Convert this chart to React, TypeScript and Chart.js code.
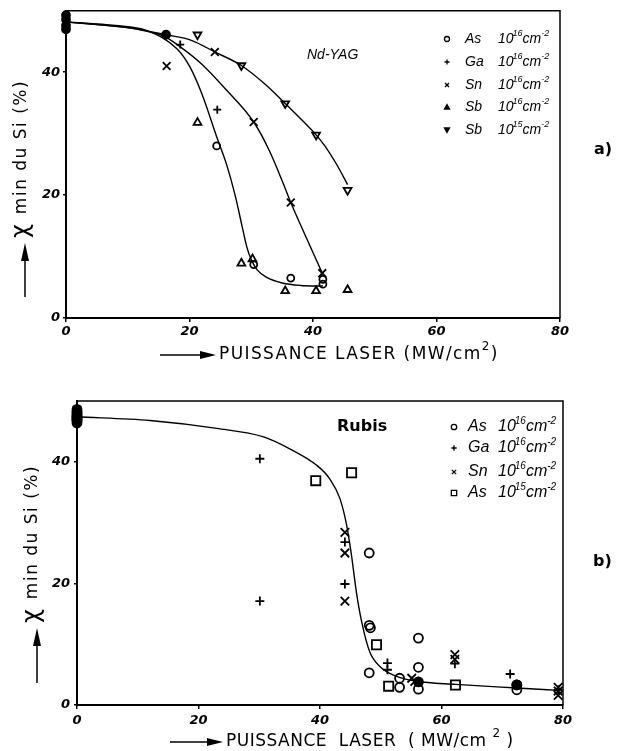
import { useEffect, useRef } from 'react';
import { Chart, registerables } from 'chart.js';
Chart.register(...registerables);

// ---------- shared ticks ----------
const xTicks = [0, 20, 40, 60, 80];
const yTicks = [0, 20, 40];

// ---------- chart a) Nd-YAG ----------
const asXA = [24.4, 30.4, 36.4, 41.6, 41.6];
const asYA = [28.0, 8.7, 6.5, 5.5, 6.3];
const gaXA = [18.5, 24.5];
const gaYA = [44.5, 33.9];
const snXA = [16.3, 24.1, 30.4, 36.4, 41.5];
const snYA = [41.0, 43.3, 31.9, 18.8, 7.3];
const sb16XA = [21.3, 28.4, 30.2, 35.5, 40.5, 45.6];
const sb16YA = [31.8, 8.9, 9.6, 4.4, 4.4, 4.6];
const sb15XA = [21.3, 28.4, 35.5, 40.5, 45.6];
const sb15YA = [46.1, 41.1, 34.9, 29.8, 20.8];
const mixedXA = [0, 0, 0, 0, 16.2];
const mixedYA = [49.3, 48.6, 47.6, 47.0, 46.1];
const fit1XA = [0, 8, 13, 18, 20, 22, 24.5, 26, 27.5, 28.5, 29.3, 30, 31, 32.5, 35, 38, 41.6];
const fit1YA = [48.2, 47.6, 46.8, 43.8, 41.0, 36.5, 29.2, 25.0, 19.5, 15.0, 11.5, 9.5, 7.8, 6.6, 5.7, 5.3, 5.2];
const fit2XA = [0, 11, 16, 18.4, 22, 25.8, 30.4, 32.9, 35.1, 36.4, 38.9, 41.5];
const fit2YA = [48.2, 47.1, 45.8, 44.2, 41.3, 37.3, 31.9, 27.3, 22.1, 18.8, 13.1, 7.3];
const fit3XA = [0, 11, 16.2, 20.3, 24.1, 28.4, 32.3, 35.5, 40.5, 42, 44, 45.6];
const fit3YA = [48.2, 47.1, 46.1, 45.2, 43.3, 41.1, 38.0, 34.9, 29.8, 27.9, 24.7, 21.7];
const legendNamesA = ['As', 'Ga', 'Sn', 'Sb', 'Sb'];
const legendExpA = ['16', '16', '16', '16', '15'];

// ---------- chart b) Rubis ----------
const asXB = [0, 48.1, 48.1, 48.3, 48.1, 53.1, 53.1, 56.2, 56.2, 56.2, 72.4, 72.4];
const asYB = [47.0, 25.0, 13.1, 12.7, 5.3, 4.4, 2.9, 11.0, 6.2, 2.6, 3.3, 2.5];
const gaXB = [0, 30.1, 30.1, 44.1, 44.1, 51.1, 51.1, 62.2, 71.3, 79.2];
const gaYB = [48.0, 40.5, 17.1, 26.8, 19.9, 6.9, 5.8, 6.8, 5.1, 2.5];
const snXB = [0, 44.1, 44.1, 44.1, 55.1, 55.6, 62.2, 62.2, 79.2, 79.2, 79.2];
const snYB = [48.5, 28.4, 25.0, 17.1, 4.4, 3.9, 8.3, 7.5, 1.6, 2.3, 2.9];
const as15XB = [0, 39.3, 45.2, 49.3, 51.3, 62.3];
const as15YB = [47.5, 36.9, 38.2, 9.9, 3.1, 3.3];
const mixedXB = [0, 0, 0, 56.2, 72.4];
const mixedYB = [48.6, 47.4, 46.4, 3.8, 3.3];
const fitXB = [0, 12, 23, 30.7, 35.1, 39.5, 41.6, 43.3, 44.4, 45.2, 46, 46.9, 48.2, 49.9, 52.6, 55.9, 62.3, 72.4, 79.2];
const fitYB = [47.4, 46.8, 45.5, 44.1, 42.1, 39.4, 37.2, 33.9, 29.5, 24.5, 18.5, 13.5, 8.7, 6.3, 4.7, 3.9, 3.4, 2.8, 2.4];
const legendNamesB = ['As', 'Ga', 'Sn', 'As'];
const legendExpB = ['16', '16', '16', '15'];

const FONT = '"DejaVu Sans", sans-serif';
const LFONT = '"Liberation Sans", Arial, sans-serif';

type Style = 'circle' | 'cross' | 'crossRot' | 'triangle' | 'triangleDown' | 'rect';

function toPts(xs: number[], ys: number[]) {
  return xs.map((x, i) => ({ x, y: ys[i] }));
}

function scatterSet(xs: number[], ys: number[], style: Style, r: number, filled = false) {
  return {
    data: toPts(xs, ys),
    pointStyle: style === 'triangleDown' ? 'triangle' : style,
    rotation: style === 'triangleDown' ? 180 : 0,
    pointRadius: r,
    borderColor: '#000',
    backgroundColor: filled ? '#000' : 'rgba(255,255,255,0)',
    borderWidth: 1.8,
    showLine: false,
    clip: false as any,
  };
}

function curveSet(xs: number[], ys: number[]) {
  return {
    data: toPts(xs, ys),
    showLine: true,
    pointRadius: 0,
    borderColor: '#000',
    borderWidth: 1.4,
    cubicInterpolationMode: 'monotone' as const,
    fill: false,
    clip: false as any,
  };
}

function drawMarker(ctx: CanvasRenderingContext2D, style: Style, x: number, y: number, r: number) {
  ctx.save();
  ctx.strokeStyle = '#000';
  ctx.fillStyle = '#000';
  ctx.lineWidth = 1.3;
  ctx.beginPath();
  if (style === 'circle') {
    ctx.arc(x, y, r, 0, Math.PI * 2);
    ctx.stroke();
  } else if (style === 'cross') {
    ctx.moveTo(x - r, y); ctx.lineTo(x + r, y);
    ctx.moveTo(x, y - r); ctx.lineTo(x, y + r);
    ctx.stroke();
  } else if (style === 'crossRot') {
    ctx.moveTo(x - r * 0.8, y - r * 0.8); ctx.lineTo(x + r * 0.8, y + r * 0.8);
    ctx.moveTo(x + r * 0.8, y - r * 0.8); ctx.lineTo(x - r * 0.8, y + r * 0.8);
    ctx.stroke();
  } else if (style === 'triangle') {
    ctx.moveTo(x, y - r); ctx.lineTo(x + r, y + r * 0.8); ctx.lineTo(x - r, y + r * 0.8);
    ctx.closePath(); ctx.fill(); ctx.stroke();
  } else if (style === 'triangleDown') {
    ctx.moveTo(x, y + r); ctx.lineTo(x + r, y - r * 0.8); ctx.lineTo(x - r, y - r * 0.8);
    ctx.closePath(); ctx.fill(); ctx.stroke();
  } else if (style === 'rect') {
    ctx.rect(x - r, y - r, 2 * r, 2 * r);
    ctx.stroke();
  }
  ctx.restore();
}

function drawLegend(ctx: CanvasRenderingContext2D, names: string[], exps: string[], styles: Style[],
  markerX: number, nameX: number, expX: number, ys: number[], mr: number, fs: number) {
  const sup = Math.round(fs * 0.62);
  names.forEach((name, i) => {
    const y = ys[i];
    drawMarker(ctx, styles[i], markerX, y, mr);
    ctx.save();
    ctx.fillStyle = '#000';
    ctx.textBaseline = 'middle';
    ctx.textAlign = 'left';
    ctx.font = `italic ${fs}px ${LFONT}`;
    ctx.fillText(name, nameX, y);
    ctx.fillText('10', expX, y);
    let cx = expX + ctx.measureText('10').width;
    ctx.font = `italic ${sup}px ${LFONT}`;
    ctx.fillText(exps[i], cx - 1, y - 6);
    cx += ctx.measureText(exps[i]).width - 1;
    ctx.font = `italic ${fs}px ${LFONT}`;
    ctx.fillText('cm', cx, y);
    cx += ctx.measureText('cm').width;
    ctx.font = `italic ${sup}px ${LFONT}`;
    ctx.fillText('-2', cx, y - 6);
    ctx.restore();
  });
}

function arrowH(ctx: CanvasRenderingContext2D, x0: number, x1: number, y: number) {
  ctx.save();
  ctx.strokeStyle = '#000'; ctx.fillStyle = '#000'; ctx.lineWidth = 1.5;
  ctx.beginPath(); ctx.moveTo(x0, y); ctx.lineTo(x1 - 12, y); ctx.stroke();
  ctx.beginPath(); ctx.moveTo(x1, y); ctx.lineTo(x1 - 16, y - 4); ctx.lineTo(x1 - 16, y + 4); ctx.closePath(); ctx.fill();
  ctx.restore();
}

function arrowV(ctx: CanvasRenderingContext2D, x: number, yTail: number, yTip: number) {
  ctx.save();
  ctx.strokeStyle = '#000'; ctx.fillStyle = '#000'; ctx.lineWidth = 1.5;
  ctx.beginPath(); ctx.moveTo(x, yTail); ctx.lineTo(x, yTip + 12); ctx.stroke();
  ctx.beginPath(); ctx.moveTo(x, yTip); ctx.lineTo(x - 4, yTip + 18); ctx.lineTo(x + 4, yTip + 18); ctx.closePath(); ctx.fill();
  ctx.restore();
}

function xTitle(ctx: CanvasRenderingContext2D, x: number, y: number, pre: string, post: string, spacing: string) {
  ctx.save();
  ctx.fillStyle = '#000';
  ctx.textBaseline = 'middle';
  ctx.textAlign = 'left';
  (ctx as any).letterSpacing = spacing;
  ctx.font = `17px ${FONT}`;
  ctx.fillText(pre, x, y);
  let cx = x + ctx.measureText(pre).width;
  ctx.font = `12px ${FONT}`;
  ctx.fillText('2', cx, y - 8);
  cx += ctx.measureText('2').width;
  ctx.font = `17px ${FONT}`;
  ctx.fillText(post, cx, y);
  ctx.restore();
}

function yTitle(ctx: CanvasRenderingContext2D, x: number, yBottom: number) {
  ctx.save();
  ctx.translate(x, yBottom);
  ctx.rotate(-Math.PI / 2);
  ctx.fillStyle = '#000';
  ctx.textBaseline = 'middle';
  ctx.textAlign = 'left';
  ctx.font = `24px ${FONT}`;
  ctx.fillText('χ', 0, 0);
  const w = ctx.measureText('χ').width;
  (ctx as any).letterSpacing = '1.5px';
  ctx.font = `17px ${FONT}`;
  ctx.fillText('min du Si (%)', w + 10, 0);
  ctx.restore();
}

function text(ctx: CanvasRenderingContext2D, s: string, x: number, y: number, font: string) {
  ctx.save();
  ctx.fillStyle = '#000';
  ctx.textBaseline = 'middle';
  ctx.textAlign = 'left';
  ctx.font = font;
  ctx.fillText(s, x, y);
  ctx.restore();
}

function frame(chart: any) {
  const { ctx, chartArea: a } = chart;
  ctx.save();
  ctx.strokeStyle = '#000';
  ctx.lineWidth = 1.5;
  ctx.beginPath();
  ctx.moveTo(a.left, a.top); ctx.lineTo(a.right, a.top); ctx.lineTo(a.right, a.bottom);
  ctx.stroke();
  ctx.restore();
}

function makeScales(yWidth: number, xHeight: number, xPad: number, yPad: number) {
  const tickFont = { family: FONT, size: 13, style: 'italic' as const, weight: 'bold' as const };
  return {
    x: {
      type: 'linear' as const,
      min: 0, max: 80,
      afterBuildTicks: (s: any) => { s.ticks = xTicks.map((v) => ({ value: v })); },
      afterFit: (s: any) => { s.height = xHeight; },
      ticks: { color: '#000', font: tickFont, padding: xPad, maxRotation: 0 },
      grid: { drawOnChartArea: false, drawTicks: true, tickLength: 4, color: '#000', lineWidth: 1.5 },
      border: { display: true, color: '#000', width: 2 },
    },
    y: {
      type: 'linear' as const,
      min: 0, max: 50,
      afterBuildTicks: (s: any) => { s.ticks = yTicks.map((v) => ({ value: v })); },
      afterFit: (s: any) => { s.width = yWidth; },
      ticks: { color: '#000', font: tickFont, padding: yPad },
      grid: { drawOnChartArea: false, drawTicks: true, tickLength: 3, color: '#000', lineWidth: 1.5 },
      border: { display: true, color: '#000', width: 2 },
    },
  };
}

const commonOpts = {
  animation: false as const,
  responsive: false,
  maintainAspectRatio: false,
  plugins: { legend: { display: false }, tooltip: { enabled: false } },
};

export default function App() {
  const refA = useRef<HTMLCanvasElement>(null);
  const refB = useRef<HTMLCanvasElement>(null);

  useEffect(() => {
    const chartA = new Chart(refA.current!, {
      type: 'scatter',
      data: {
        datasets: [
          curveSet(fit1XA, fit1YA),
          curveSet(fit2XA, fit2YA),
          curveSet(fit3XA, fit3YA),
          scatterSet(asXA, asYA, 'circle', 3.5),
          scatterSet(gaXA, gaYA, 'cross', 4),
          scatterSet(snXA, snYA, 'crossRot', 5.5),
          scatterSet(sb16XA, sb16YA, 'triangle', 4.5),
          scatterSet(sb15XA, sb15YA, 'triangleDown', 4.5),
          scatterSet(mixedXA, mixedYA, 'circle', 4, true),
        ] as any,
      },
      options: {
        ...commonOpts,
        layout: { padding: { left: 0, right: 64, top: 10, bottom: 0 } },
        scales: makeScales(66, 57, 2, 3) as any,
      },
      plugins: [{
        id: 'extrasA',
        afterDraw(chart: any) {
          const ctx = chart.ctx as CanvasRenderingContext2D;
          frame(chart);
          drawLegend(ctx, legendNamesA, legendExpA, ['circle', 'cross', 'crossRot', 'triangle', 'triangleDown'],
            447, 465, 498, [39, 62, 85, 107, 130], 2.5, 14);
          text(ctx, 'Nd-YAG', 307, 55, `italic 14px ${LFONT}`);
          text(ctx, 'a)', 594, 150, `bold 16px ${FONT}`);
          arrowH(ctx, 160, 216, 355);
          xTitle(ctx, 219, 355, 'PUISSANCE LASER (MW/cm', ')', '1.4px');
          yTitle(ctx, 22, 238);
          arrowV(ctx, 25, 297, 243);
        },
      }],
    });

    const chartB = new Chart(refB.current!, {
      type: 'scatter',
      data: {
        datasets: [
          curveSet(fitXB, fitYB),
          scatterSet(asXB, asYB, 'circle', 4.5),
          scatterSet(gaXB, gaYB, 'cross', 4.5),
          scatterSet(snXB, snYB, 'crossRot', 6),
          scatterSet(as15XB, as15YB, 'rect', 6.5),
          scatterSet(mixedXB, mixedYB, 'circle', 4.5, true),
        ] as any,
      },
      options: {
        ...commonOpts,
        layout: { padding: { left: 0, right: 61, top: 26, bottom: 0 } },
        scales: makeScales(77, 46, 4, 4) as any,
      },
      plugins: [{
        id: 'extrasB',
        afterDraw(chart: any) {
          const ctx = chart.ctx as CanvasRenderingContext2D;
          frame(chart);
          drawLegend(ctx, legendNamesB, legendExpB, ['circle', 'cross', 'crossRot', 'rect'],
            454, 468, 498, [52, 73, 97, 118], 2.7, 16);
          text(ctx, 'Rubis', 337, 52, `bold 16px ${FONT}`);
          text(ctx, 'b)', 593, 187, `bold 16px ${FONT}`);
          arrowH(ctx, 170, 223, 367);
          xTitle(ctx, 226, 367, 'PUISSANCE  LASER  ( MW/cm ', ' )', '0.5px');
          yTitle(ctx, 33, 248);
          arrowV(ctx, 37, 308, 253);
        },
      }],
    });

    return () => { chartA.destroy(); chartB.destroy(); };
  }, []);

  return (
    <div style={{ position: 'absolute', left: 0, top: 0, width: 624, height: 751, background: '#fff' }}>
      <canvas ref={refA} width={624} height={375} style={{ position: 'absolute', left: 0, top: 0, width: 624, height: 375 }} />
      <canvas ref={refB} width={624} height={376} style={{ position: 'absolute', left: 0, top: 375, width: 624, height: 376 }} />
    </div>
  );
}
